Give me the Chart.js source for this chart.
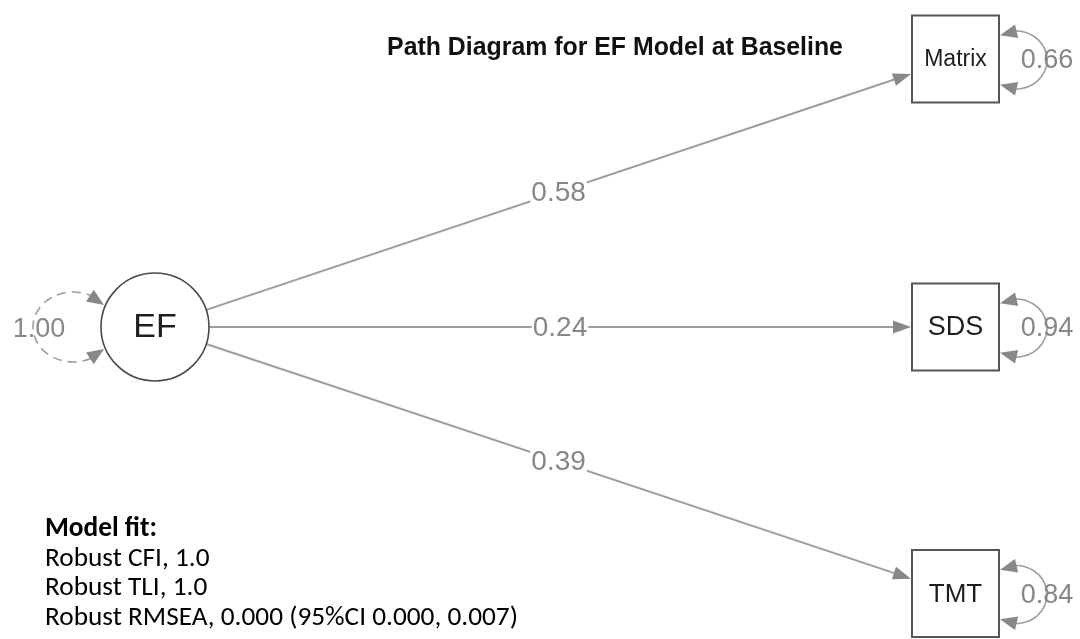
<!DOCTYPE html>
<html>
<head>
<meta charset="utf-8">
<script src="https://cdn.jsdelivr.net/npm/chart.js@4.4.1/dist/chart.umd.min.js"></script>
<style>
  html, body { margin: 0; padding: 0; background: #ffffff; }
  canvas { display: block; }
</style>
</head>
<body>
<canvas id="pathChart" width="1080" height="639"></canvas>
<script>
// ---- model estimates ----
const latentName = 'EF';
const indicatorNames = ['Matrix', 'SDS', 'TMT'];
const loadings = [0.58, 0.24, 0.39];
const residualVariances = [0.66, 0.94, 0.84];
const latentVariance = 1.00;

// ---- text ----
const chartTitle = 'Path Diagram for EF Model at Baseline';
const fitHeading = 'Model fit:';
const fitLines = ['Robust CFI, 1.0', 'Robust TLI, 1.0', 'Robust RMSEA, 0.000 (95%CI 0.000, 0.007)'];

// ---- diagram layout (scale units = canvas pixels) ----
const layout = {
  latent: { x: 155, y: 327, r: 54 },
  indicators: [{ x: 955.5, y: 59 }, { x: 955.5, y: 327 }, { x: 955.5, y: 593.5 }],
  boxHalf: 43.5
};

const EDGE_COLOR = '#9d9d9d';
const ARROW_COLOR = '#888888';
const LABEL_COLOR = '#878787';
const ARROW_LEN = 18, ARROW_HALF = 6.5;
const LOOP_ARROW_LEN = 17, LOOP_ARROW_HALF = 7;
const SANS = '"Liberation Sans", Arial, Helvetica, sans-serif';

// geometry of each loading path: from the circle edge to the left side of the box
function edgeGeometry(i) {
  const c = layout.latent, b = layout.indicators[i];
  const dx = b.x - c.x, dy = b.y - c.y, len = Math.hypot(dx, dy);
  const ux = dx / len, uy = dy / len;
  const start = { x: c.x + ux * c.r, y: c.y + uy * c.r };
  const t = (b.x - layout.boxHalf - 1 - c.x) / ux;
  const tip = { x: c.x + ux * t, y: c.y + uy * t };
  const lineEnd = { x: tip.x - ux * (ARROW_LEN - 2), y: tip.y - uy * (ARROW_LEN - 2) };
  return { start, tip, lineEnd, ux, uy };
}

const edgeDatasets = indicatorNames.map((name, i) => {
  const g = edgeGeometry(i);
  return {
    label: latentName + ' → ' + name,
    data: [g.start, g.lineEnd],
    showLine: true,
    borderColor: EDGE_COLOR,
    borderWidth: 2,
    pointRadius: 0,
    clip: false,
    order: 3
  };
});

const latentDataset = {
  label: latentName,
  data: [{ x: layout.latent.x, y: layout.latent.y }],
  pointStyle: 'circle',
  pointRadius: layout.latent.r,
  backgroundColor: '#ffffff',
  borderColor: '#4a4a4a',
  borderWidth: 1.6,
  clip: false,
  order: 1
};

const indicatorDataset = {
  label: 'indicators',
  data: layout.indicators.map(p => ({ x: p.x, y: p.y })),
  pointStyle: 'rect',
  pointRadius: layout.boxHalf / Math.SQRT1_2,
  backgroundColor: '#ffffff',
  borderColor: '#555555',
  borderWidth: 2,
  clip: false,
  order: 1
};

function arrowHead(ctx, x, y, dx, dy, len, half, color) {
  const l = Math.hypot(dx, dy), ux = dx / l, uy = dy / l;
  const bx = x - ux * len, by = y - uy * len;
  ctx.beginPath();
  ctx.moveTo(x, y);
  ctx.lineTo(bx - uy * half, by + ux * half);
  ctx.lineTo(bx + uy * half, by - ux * half);
  ctx.closePath();
  ctx.fillStyle = color;
  ctx.fill();
}

// arrowhead at the end of an elliptical arc, aimed along the chord covering its length
function loopArrow(ctx, cx, cy, rx, ry, endAngle, backAngle) {
  const tx = cx + rx * Math.cos(endAngle), ty = cy + ry * Math.sin(endAngle);
  const sx = cx + rx * Math.cos(backAngle), sy = cy + ry * Math.sin(backAngle);
  arrowHead(ctx, tx, ty, tx - sx, ty - sy, LOOP_ARROW_LEN, LOOP_ARROW_HALF, ARROW_COLOR);
}

function fitFontSize(ctx, text, weight, family, targetWidth) {
  ctx.font = weight + ' 100px ' + family;
  return 100 * targetWidth / ctx.measureText(text).width;
}

const diagramPlugin = {
  id: 'pathDiagram',
  afterDatasetsDraw(chart) {
    const ctx = chart.ctx;
    const xs = chart.scales.x, ys = chart.scales.y;
    const px = v => xs.getPixelForValue(v), py = v => ys.getPixelForValue(v);
    const deg = Math.PI / 180;
    ctx.save();

    // arrowheads and loading labels
    indicatorNames.forEach((name, i) => {
      const g = edgeGeometry(i);
      arrowHead(ctx, px(g.tip.x), py(g.tip.y), g.ux, g.uy, ARROW_LEN, ARROW_HALF, ARROW_COLOR);
      const mx = (px(g.start.x) + px(g.tip.x)) / 2, my = (py(g.start.y) + py(g.tip.y)) / 2;
      const txt = loadings[i].toFixed(2);
      ctx.font = '28px ' + SANS;
      const w = ctx.measureText(txt).width;
      ctx.fillStyle = '#ffffff';
      ctx.fillRect(mx - w / 2 - 1, my - 12, w + 2, 24);
      ctx.fillStyle = LABEL_COLOR;
      ctx.textAlign = 'center';
      ctx.textBaseline = 'middle';
      ctx.fillText(txt, mx, my + 1);
    });

    // residual variance loops on the indicators
    indicatorNames.forEach((name, i) => {
      const b = layout.indicators[i];
      const cx = px(b.x + layout.boxHalf + 17), cy = py(b.y + 1);
      const rx = 31, ry = 29, a = 121 * deg;
      ctx.beginPath();
      ctx.ellipse(cx, cy, rx, ry, 0, -a + 20 * deg, a - 20 * deg, false);
      ctx.strokeStyle = EDGE_COLOR;
      ctx.lineWidth = 1.6;
      ctx.setLineDash([]);
      ctx.stroke();
      loopArrow(ctx, cx, cy, rx, ry, -a, -a + 34 * deg);
      loopArrow(ctx, cx, cy, rx, ry, a, a - 34 * deg);
      ctx.font = '27px ' + SANS;
      ctx.fillStyle = LABEL_COLOR;
      ctx.textAlign = 'center';
      ctx.textBaseline = 'middle';
      ctx.fillText(residualVariances[i].toFixed(2), cx + rx, cy + 1);
    });

    // dashed variance loop on the latent factor
    {
      const c = layout.latent;
      const cx = px(c.x - 82), cy = py(c.y);
      const rx = 40, ry = 35, a = 39 * deg;
      ctx.beginPath();
      ctx.ellipse(cx, cy, rx, ry, 0, -a - 18 * deg, a + 18 * deg, true);
      ctx.strokeStyle = EDGE_COLOR;
      ctx.lineWidth = 1.6;
      ctx.setLineDash([9, 6]);
      ctx.stroke();
      ctx.setLineDash([]);
      loopArrow(ctx, cx, cy, rx, ry, -a, -a - 28 * deg);
      loopArrow(ctx, cx, cy, rx, ry, a, a + 28 * deg);
      ctx.font = '27px ' + SANS;
      ctx.fillStyle = LABEL_COLOR;
      ctx.textAlign = 'center';
      ctx.textBaseline = 'middle';
      ctx.fillText(latentVariance.toFixed(2), px(39), py(c.y + 3));
    }

    // node labels
    ctx.fillStyle = '#1e1e1e';
    ctx.textAlign = 'center';
    ctx.textBaseline = 'middle';
    ctx.font = '34px ' + SANS;
    ctx.fillText(latentName, px(layout.latent.x), py(layout.latent.y + 1));
    const nodeSizes = [23, 27, 26];
    indicatorNames.forEach((name, i) => {
      const b = layout.indicators[i];
      ctx.font = nodeSizes[i] + 'px ' + SANS;
      ctx.fillText(name, px(b.x), py(b.y + 1));
    });

    // title
    const ts = fitFontSize(ctx, chartTitle, 'bold', SANS, 456);
    ctx.font = 'bold ' + ts.toFixed(2) + 'px ' + SANS;
    ctx.fillStyle = '#111111';
    ctx.textAlign = 'center';
    ctx.textBaseline = 'alphabetic';
    ctx.fillText(chartTitle, 615, 55);

    // model fit block
    const fitFamily = 'Carlito, Lato, "Open Sans", sans-serif';
    const fs = fitFontSize(ctx, fitLines[2], 'normal', fitFamily, 473);
    ctx.textAlign = 'left';
    ctx.fillStyle = '#000000';
    ctx.font = 'bold ' + fs.toFixed(2) + 'px ' + fitFamily;
    ctx.fillText(fitHeading, 45, 536);
    ctx.font = 'normal ' + fs.toFixed(2) + 'px ' + fitFamily;
    const baselines = [566, 595, 625];
    fitLines.forEach((t, i) => ctx.fillText(t, 45, baselines[i]));

    ctx.restore();
  }
};

new Chart(document.getElementById('pathChart'), {
  type: 'scatter',
  data: { datasets: [...edgeDatasets, latentDataset, indicatorDataset] },
  options: {
    responsive: false,
    animation: false,
    events: [],
    layout: { padding: 0, autoPadding: false },
    scales: {
      x: { type: 'linear', min: 0, max: 1080, display: false },
      y: { type: 'linear', min: 0, max: 639, reverse: true, display: false }
    },
    plugins: {
      legend: { display: false },
      tooltip: { enabled: false },
      title: { display: false }
    }
  },
  plugins: [diagramPlugin]
});
</script>
</body>
</html>
